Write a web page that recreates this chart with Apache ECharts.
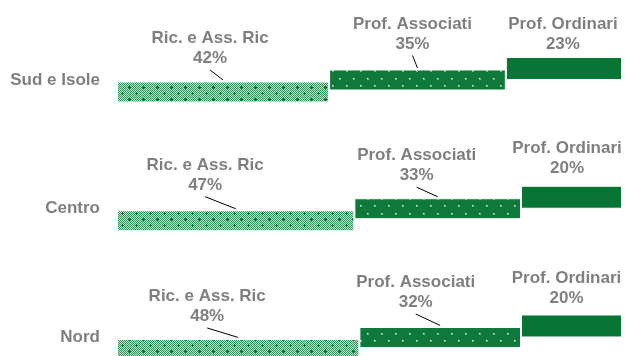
<!DOCTYPE html>
<html>
<head>
<meta charset="utf-8">
<script src="https://cdn.jsdelivr.net/npm/echarts@6/dist/echarts.min.js"></script>
<style>
  html, body { margin: 0; padding: 0; background: #fff; }
  #chart { width: 625px; height: 356px; }
</style>
</head>
<body>
<div id="chart"></div>
<script>
// Staff composition by area (% of total)
const regions = ['Sud e Isole', 'Centro', 'Nord'];
const roles = ['Ric. e Ass. Ric', 'Prof. Associati', 'Prof. Ordinari'];
const ricAssRic = [42, 47, 48];
const profAssociati = [35, 33, 32];
const profOrdinari = [23, 20, 20];

// Label placement per role and area: [shift from bar centre, gap above bar top]
const labelShift = [
  [[-13, 13], [-30.5, 15], [-31, 12.5]],
  [[-5, 15.5], [-21, 12.5], [-24.5, 14.5]],
  [[-1, 3], [-4.5, 7], [-5, 6]]
];
const hasLeader = [true, true, false];

// Each role sits on its own grid, stepped up a little from the previous one
const bandHeight = 386.25;
const gridTops = [27.6, 15.6, 4.1];
const barWidths = [21, 21, 23];
const textColor = '#7f7f7f';
const fontFamily = '"Liberation Sans", Arial, sans-serif';

function makeTile(w, h, paint) {
  const c = document.createElement('canvas');
  c.width = w; c.height = h;
  paint(c.getContext('2d'));
  return c;
}

// fine checker with darker crosses
const ricTile = makeTile(14, 12, g => {
  for (let y = 0; y < 12; y++) {
    for (let x = 0; x < 14; x++) {
      g.fillStyle = (x + y) % 2 ? '#c4e0cd' : '#358f56';
      g.fillRect(x, y, 1, 1);
    }
  }
  g.fillStyle = '#0b6a31';
  [[3, 3], [10, 9]].forEach(([cx, cy]) => {
    g.fillRect(cx - 1, cy, 3, 1);
    g.fillRect(cx, cy - 1, 1, 3);
  });
});

// dark green with small light dots
const assTile = makeTile(14, 15, g => {
  g.fillStyle = '#0e793a';
  g.fillRect(0, 0, 14, 15);
  [[3, 3], [10, 10]].forEach(([cx, cy]) => {
    g.fillStyle = '#6fb488';
    g.fillRect(cx, cy, 2, 2);
    g.fillStyle = '#eef7f1';
    g.fillRect(cx, cy, 1, 1);
  });
});

const fills = [
  { image: ricTile, repeat: 'repeat' },
  { image: assTile, repeat: 'repeat' },
  '#087535'
];

const values = [ricAssRic, profAssociati, profOrdinari];
const bases = [
  regions.map(() => 0),
  ricAssRic.slice(),
  ricAssRic.map((v, i) => v + profAssociati[i])
];

const grid = [], xAxis = [], yAxis = [], series = [];

values.forEach((vals, k) => {
  grid.push({ left: 117, right: 3, top: gridTops[k], height: bandHeight, outerBoundsMode: 'none', containLabel: false });
  xAxis.push({ gridIndex: k, type: 'value', min: 0, max: 100, show: false });
  yAxis.push({
    gridIndex: k, type: 'category', data: regions, inverse: true,
    show: k === 1,
    axisLine: { show: false }, axisTick: { show: false }, splitLine: { show: false },
    axisLabel: {
      show: k === 1, margin: 17, color: textColor,
      fontFamily, fontWeight: 'bold', fontSize: 17
    }
  });

  if (k > 0) {
    series.push({
      type: 'bar', xAxisIndex: k, yAxisIndex: k, stack: 'lvl' + k,
      data: bases[k], barWidth: barWidths[k], silent: true,
      itemStyle: { color: 'transparent' }, label: { show: false }
    });
  }

  series.push({
    name: roles[k], type: 'bar', xAxisIndex: k, yAxisIndex: k, stack: 'lvl' + k,
    data: vals, barWidth: barWidths[k],
    itemStyle: { color: fills[k], borderColor: '#ffffff', borderWidth: 1 },
    label: {
      show: true, position: 'top', distance: 0,
      formatter: '{a}\n{c}%',
      color: textColor, fontFamily, fontWeight: 'bold', fontSize: 17,
      lineHeight: 20, align: 'center'
    },
    labelLayout: p => {
      const s = labelShift[k][p.dataIndex];
      return { dx: s[0], dy: -s[1] };
    }
  });

  if (hasLeader[k]) {
    series.push({
      type: 'custom', xAxisIndex: k, yAxisIndex: k, silent: true,
      encode: { x: [0, 1], y: 2 },
      data: vals.map((v, i) => [bases[k][i], bases[k][i] + v, i]),
      renderItem: (params, api) => {
        const s = labelShift[k][params.dataIndex];
        const mid = api.coord([(api.value(0) + api.value(1)) / 2, api.value(2)]);
        const top = mid[1] - barWidths[k] / 2;
        return {
          type: 'line',
          shape: { x1: mid[0] + s[0], y1: top - s[1] + 1.5, x2: mid[0], y2: top - 1.5 },
          style: { stroke: '#000000', lineWidth: 1 }
        };
      }
    });
  }
});

const chart = echarts.init(document.getElementById('chart'), null, { renderer: 'canvas' });
chart.setOption({ animation: false, backgroundColor: '#ffffff', grid, xAxis, yAxis, series });
</script>
</body>
</html>
